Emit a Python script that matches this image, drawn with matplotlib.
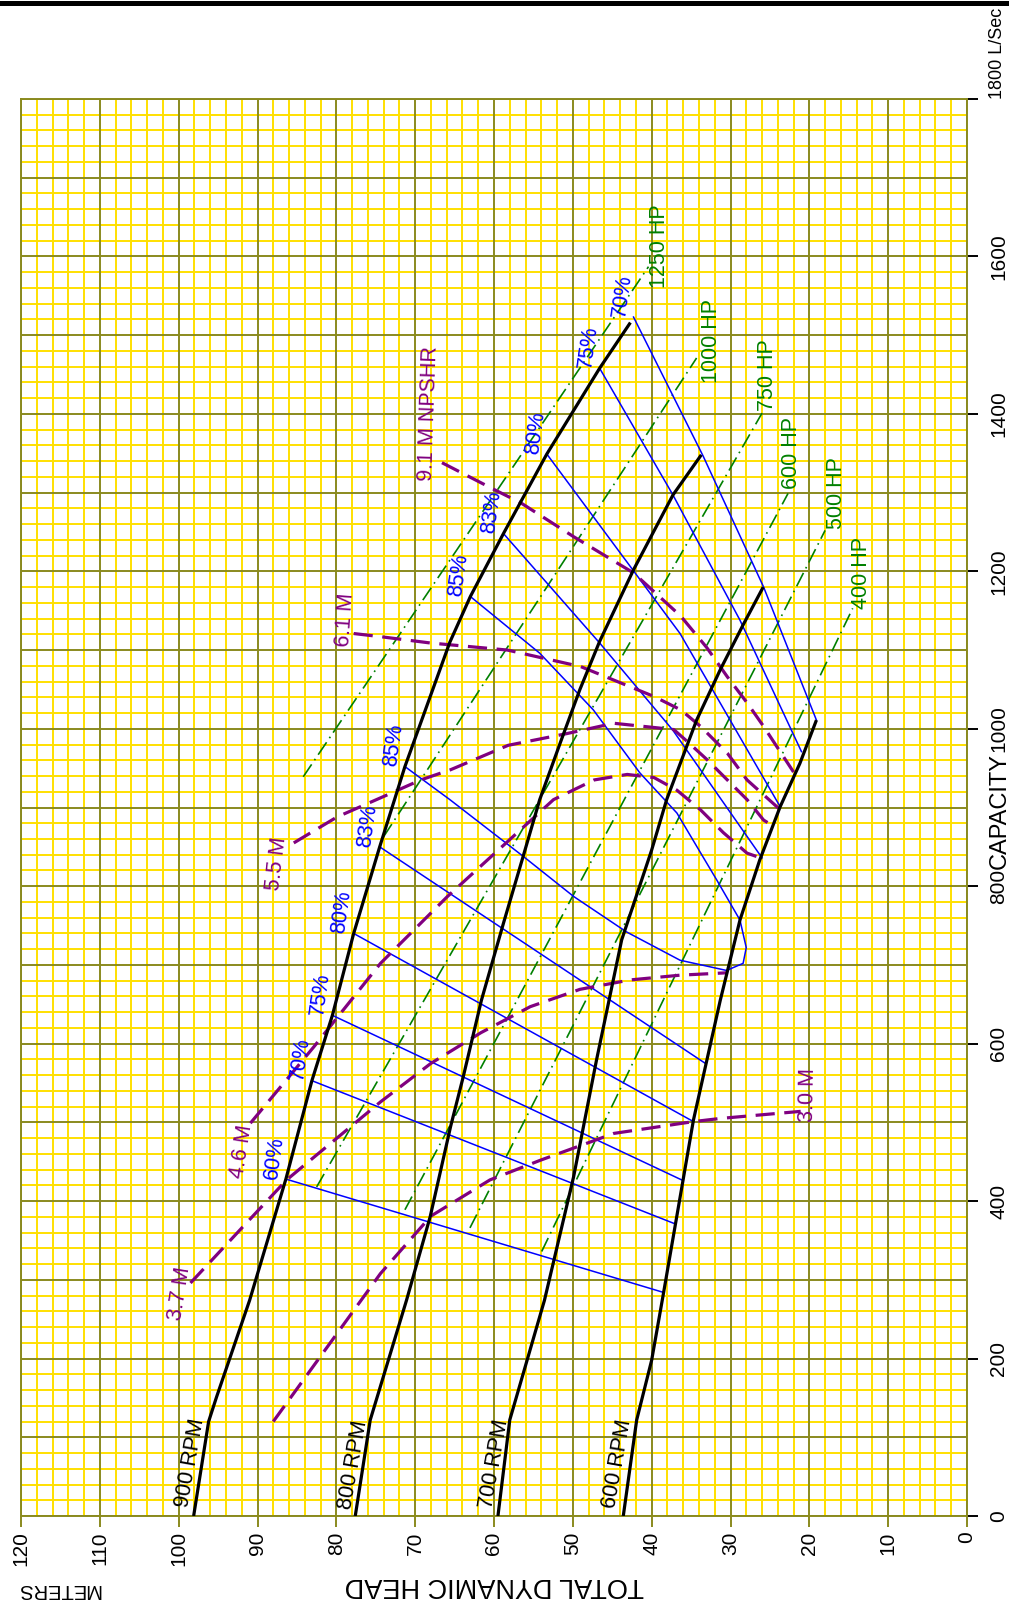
import matplotlib
matplotlib.use("Agg")
import matplotlib.pyplot as plt
from matplotlib.lines import Line2D
from matplotlib import font_manager

plt.rcParams['font.family'] = ['Liberation Sans', 'DejaVu Sans']

# speed curves: capacity (L/s) and total dynamic head (m)
rpm900_q = [0, 120, 151, 274, 428, 553, 636, 740, 850, 952, 1110, 1168, 1248, 1349, 1458, 1516]
rpm900_h = [98.1, 96.2, 95.2, 91.0, 86.4, 83.1, 80.5, 77.8, 74.5, 71.3, 65.6, 63.0, 58.8, 53.3, 46.6, 42.7]
rpm800_q = [0, 122, 274, 380, 495, 558, 655, 753, 838, 910, 982, 1050, 1111, 1202, 1297, 1348]
rpm800_h = [77.6, 75.7, 71.1, 68.1, 65.5, 63.9, 61.6, 58.8, 56.3, 54.2, 51.6, 49.1, 46.6, 42.3, 37.3, 33.7]
rpm700_q = [0, 122, 274, 431, 579, 732, 846, 910, 1011, 1075, 1132, 1180]
rpm700_h = [59.5, 58.0, 53.6, 49.9, 47.0, 43.8, 40.0, 38.1, 34.3, 31.3, 28.4, 25.85]
rpm600_q = [0, 122, 198, 283, 503, 579, 655, 757, 833, 901, 956, 1011]
rpm600_h = [43.6, 41.9, 40.0, 38.5, 34.7, 33.0, 31.3, 28.8, 26.3, 23.7, 21.2, 19.1]
rpm_labels = ["900 RPM", "800 RPM", "700 RPM", "600 RPM"]
rpm_label_h = [98.5, 77.85, 60.0, 44.3]
rpm_label_q = [68, 65, 66, 66]

# efficiency lines
eff60_q = [428, 284]
eff60_h = [86.4, 38.5]
eff70_q = [553, 371]
eff70_h = [83.1, 37.0]
eff75_q = [636, 426]
eff75_h = [80.5, 36.0]
eff80_q = [740, 501]
eff80_h = [77.8, 34.7]
eff83_q = [850, 575]
eff83_h = [74.5, 33.2]
eff85_q = [952, 910, 838, 787, 742, 706, 693, 702, 722, 757, 808, 893, 944, 1024, 1096, 1168]
eff85_h = [71.3, 65.6, 56.3, 49.9, 43.2, 36.4, 30.5, 28.4, 28.0, 28.8, 31.75, 36.8, 41.5, 47.4, 54.2, 63.0]
eff83r_q = [1248, 1109, 998, 836]
eff83r_h = [58.8, 46.6, 37.3, 26.0]
eff80r_q = [1349, 1121, 901]
eff80r_h = [53.3, 36.4, 23.7]
eff75r_q = [1458, 1297, 1138, 971]
eff75r_h = [46.6, 37.3, 28.8, 21.0]
eff70r_q = [1523, 1346, 1180, 1011]
eff70r_h = [42.3, 33.45, 25.8, 19.1]
eff_labels = ["60%", "70%", "75%", "80%", "83%", "85%", "85%", "83%", "80%", "75%", "70%"]
eff_label_h = [86.4, 83.1, 80.5, 77.8, 74.5, 71.3, 63.0, 58.8, 53.3, 46.6, 42.3]
eff_label_q = [428, 553, 636, 740, 850, 952, 1168, 1248, 1349, 1458, 1523]

# NPSHR curves
npsh30_q = [120, 308, 381, 427, 452, 486, 501, 505, 514]
npsh30_h = [88.0, 74.4, 68.0, 60.5, 54.1, 44.8, 34.7, 31.3, 21.1]
npsh37_q = [296, 427, 526, 575, 614, 647, 669, 681, 687, 690]
npsh37_h = [98.5, 86.3, 74.4, 68.0, 61.65, 55.4, 49.1, 42.7, 36.4, 30.5]
npsh46_q = [499, 596, 702, 787, 910, 935, 942, 938, 922, 897, 868, 842, 836]
npsh46_h = [90.9, 82.85, 74.4, 65.9, 52.45, 47.3, 43.1, 39.7, 36.8, 33.8, 30.9, 27.9, 26.2]
npsh55_q = [855, 888, 914, 935, 948, 979, 994, 1007, 999, 984, 961, 935, 910, 884, 876]
npsh55_h = [85.4, 79.9, 74.0, 69.3, 65.5, 58.2, 50.7, 44.8, 37.2, 35.5, 33.0, 30.4, 27.9, 25.8, 24.5]
npsh61_q = [1121, 1117, 1109, 1100, 1079, 1041, 1024, 1003, 969, 935, 899]
npsh61_h = [77.8, 74.4, 68.1, 58.3, 49.0, 39.7, 36.3, 33.8, 30.4, 27.9, 23.9]
npsh91_q = [1338, 1304, 1287, 1244, 1198, 1143, 1103, 1066, 1033, 1003, 977, 945]
npsh91_h = [66.6, 60.0, 56.6, 49.9, 42.3, 36.3, 33.0, 30.4, 27.9, 25.8, 24.1, 22.0]
npsh_labels = ["3.0 M", "3.7 M", "4.6 M", "5.5 M", "6.1 M", "9.1 M NPSHR"]
npsh_label_h = [20.2, 99.8, 92.0, 87.5, 78.8, 68.25]
npsh_label_q = [535, 283, 463, 828, 1138, 1401]
npsh_label_rot = [89, 81, 81, 83, 86, 88]

# horsepower lines
hp1250_q = [939, 1587]
hp1250_h = [84.2, 40.4]
hp1000_q = [863, 1471]
hp1000_h = [74.0, 34.3]
hp750_q = [418, 1401]
hp750_h = [82.5, 26.0]
hp600_q = [389, 1299]
hp600_h = [71.3, 22.7]
hp500_q = [366, 1252]
hp500_h = [63.05, 18.0]
hp400_q = [336, 1153]
hp400_h = [53.95, 14.5]
hp_labels = ["1250 HP", "1000 HP", "750 HP", "600 HP", "500 HP", "400 HP"]
hp_label_h = [38.95, 32.4, 25.3, 22.2, 16.5, 13.4]
hp_label_q = [1613, 1493, 1449, 1350, 1299, 1198]

head_ticks = list(range(0, 121, 10))
cap_ticks = list(range(0, 1801, 200))
cap_tick_labels = [str(c) for c in cap_ticks[:-1]] + ["1800 L/Sec"]

YELLOW = "#ffe000"
OLIVE = "#8a8a1e"
BLUE = "#0000ff"
GREEN = "#008000"
PURPLE = "#800080"

# axis titles look like a narrow face; use it if it is there
installed = {f.name for f in font_manager.fontManager.ttflist}
if "Liberation Sans Narrow" in installed:
    title_font = dict(family="Liberation Sans Narrow", fontsize=23.5)
    cap_font = dict(family="Liberation Sans Narrow", fontsize=20.5)
    meters_font = dict(family="Liberation Sans Narrow", fontsize=17)
else:
    title_font = dict(family="Liberation Sans", fontsize=19.5)
    cap_font = dict(family="Liberation Sans", fontsize=17)
    meters_font = dict(family="Liberation Sans", fontsize=14.5)

fig = plt.figure(figsize=(10.09, 16.03), dpi=100)
ax = fig.add_axes([21 / 1009, 1 - 1516 / 1603, 946 / 1009, 1417 / 1603])
ax.set_xlim(120, 0)
ax.set_ylim(0, 1800)

# graph paper
for h in range(0, 121, 2):
    if h % 10:
        ax.axvline(h, color=YELLOW, lw=1.4, zorder=0)
for q in range(0, 1801, 20):
    if q % 100:
        ax.axhline(q, color=YELLOW, lw=1.4, zorder=0)
for h in range(0, 121, 10):
    ax.axvline(h, color=OLIVE, lw=1.4, zorder=0.5)
for q in range(0, 1801, 100):
    ax.axhline(q, color=OLIVE, lw=1.4, zorder=0.5)

for s in ax.spines.values():
    s.set_color(OLIVE)
    s.set_linewidth(1.4)

# horsepower lines
hp_style = (0, (9, 3, 1, 3))
for q, h in [(hp1250_q, hp1250_h), (hp1000_q, hp1000_h), (hp750_q, hp750_h),
             (hp600_q, hp600_h), (hp500_q, hp500_h), (hp400_q, hp400_h)]:
    ax.plot(h, q, color=GREEN, lw=1.2, linestyle=hp_style, zorder=2)
for t, h, q in zip(hp_labels, hp_label_h, hp_label_q):
    ax.text(h, q, t, color=GREEN, fontsize=15.5, rotation=90, ha="center", va="center", zorder=6)

# efficiency lines
for q, h in [(eff60_q, eff60_h), (eff70_q, eff70_h), (eff75_q, eff75_h), (eff80_q, eff80_h),
             (eff83_q, eff83_h), (eff85_q, eff85_h), (eff83r_q, eff83r_h), (eff80r_q, eff80r_h),
             (eff75r_q, eff75r_h), (eff70r_q, eff70r_h)]:
    ax.plot(h, q, color=BLUE, lw=1.1, zorder=3)
for t, h, q in zip(eff_labels, eff_label_h, eff_label_q):
    ax.annotate(t, xy=(h, q), xytext=(-3, -1), textcoords="offset points", color=BLUE,
                fontsize=15.5, rotation=82, rotation_mode="anchor", ha="left", va="bottom", zorder=6)

# NPSHR curves
for q, h in [(npsh30_q, npsh30_h), (npsh37_q, npsh37_h), (npsh46_q, npsh46_h),
             (npsh55_q, npsh55_h), (npsh61_q, npsh61_h), (npsh91_q, npsh91_h)]:
    ax.plot(h, q, color=PURPLE, lw=2.3, linestyle=(0, (6, 3)), zorder=4)
for t, h, q, r in zip(npsh_labels, npsh_label_h, npsh_label_q, npsh_label_rot):
    ax.text(h, q, t, color=PURPLE, fontsize=15.5, rotation=r, rotation_mode="anchor",
            ha="center", va="center", zorder=6)

# speed curves
for q, h in [(rpm900_q, rpm900_h), (rpm800_q, rpm800_h), (rpm700_q, rpm700_h), (rpm600_q, rpm600_h)]:
    ax.plot(h, q, color="black", lw=2.3, zorder=5, solid_capstyle="butt")
for t, h, q in zip(rpm_labels, rpm_label_h, rpm_label_q):
    ax.text(h, q, t, color="black", fontsize=15.5, rotation=80, rotation_mode="anchor",
            ha="center", va="center", zorder=6)

# axes
ax.set_xticks(head_ticks)
ax.set_xticklabels([str(h) for h in head_ticks])
ax.tick_params(axis="x", direction="out", length=8, width=1.4, color=OLIVE,
               labelsize=15, labelrotation=90, pad=3)
ax.yaxis.tick_right()
ax.set_yticks(cap_ticks)
ax.set_yticklabels(cap_tick_labels)
ax.tick_params(axis="y", direction="out", length=8, width=1.4, color="black",
               labelsize=15, labelrotation=90, pad=8)
for lab in ax.get_yticklabels():
    lab.set_va("center")
top_lab = ax.get_yticklabels()[-1]
top_lab.set_va("bottom")
top_lab.set_fontsize(13)
ax.minorticks_off()

fig.text(494 / 1009, 1 - 1585 / 1603, "TOTAL DYNAMIC HEAD", rotation=180,
         ha="center", va="center", **title_font)
fig.text(59 / 1009, 1 - 1589 / 1603, "METERS", rotation=180, ha="center", va="center", **meters_font)
fig.text(1000 / 1009, 1 - 811 / 1603, "CAPACITY", rotation=90, ha="center", va="center", **cap_font)

fig.add_artist(Line2D([0, 1], [1 - 2.5 / 1603, 1 - 2.5 / 1603], color="black", lw=3.6,
                      transform=fig.transFigure))

fig.savefig("out.png", dpi=100)
